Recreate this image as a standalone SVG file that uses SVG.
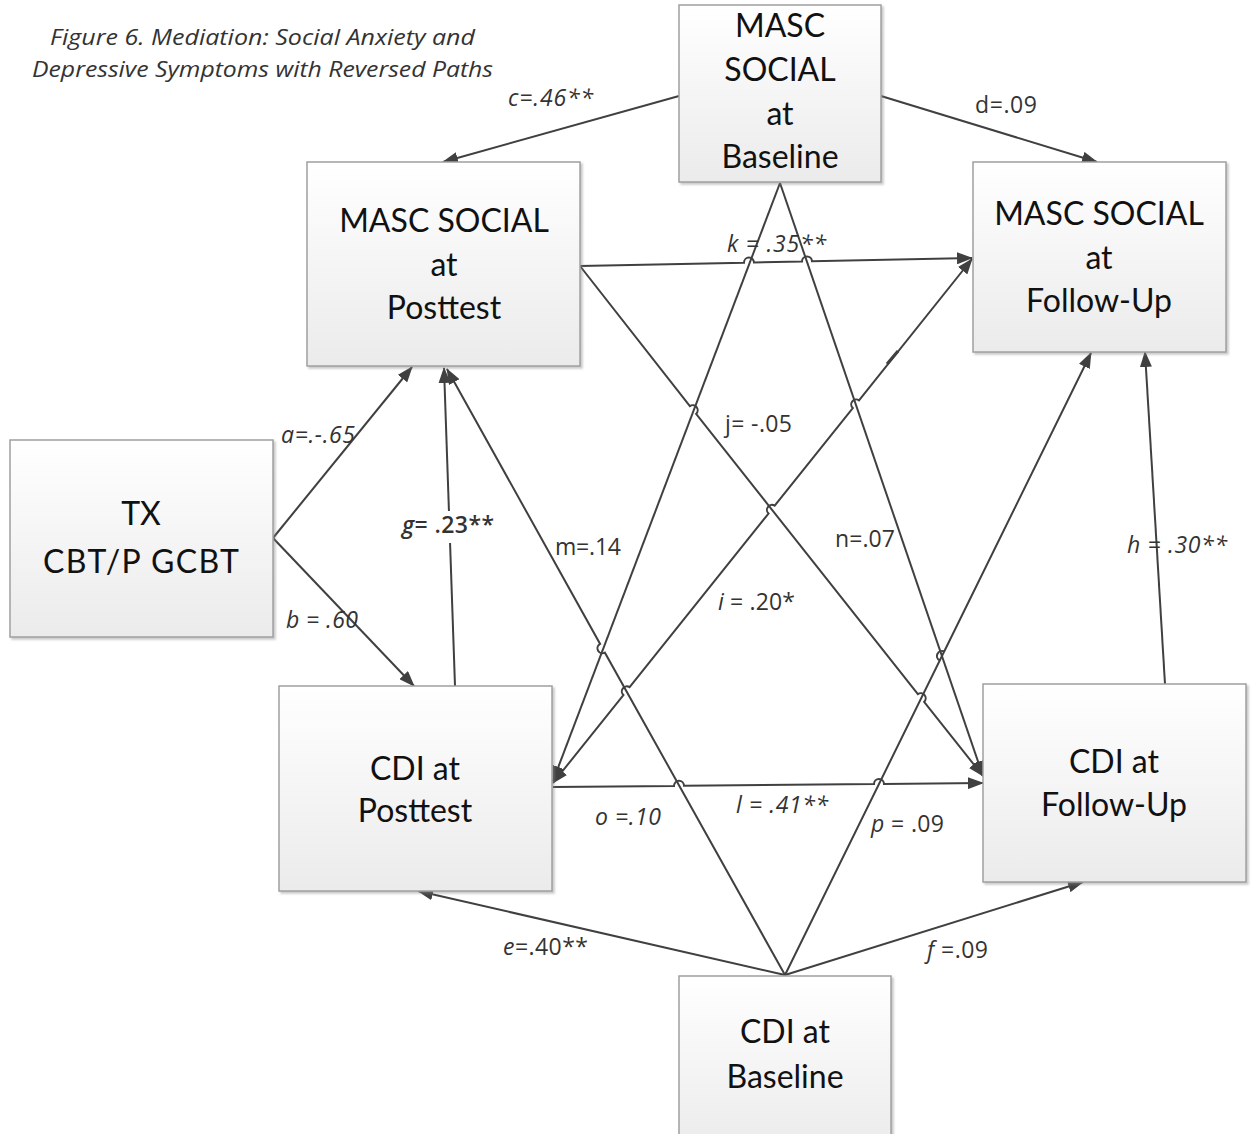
<svg xmlns="http://www.w3.org/2000/svg" width="1253" height="1134" viewBox="0 0 1253 1134">
  <defs>
    <linearGradient id="boxFill" x1="0" y1="0" x2="0" y2="1">
      <stop offset="0" stop-color="#ffffff"/>
      <stop offset="1" stop-color="#ebebeb"/>
    </linearGradient>
    <filter id="shadow" x="-5%" y="-5%" width="115%" height="115%">
      <feDropShadow dx="2" dy="2" stdDeviation="1.2" flood-color="#888888" flood-opacity="0.45"/>
    </filter>
    <marker id="arrow" viewBox="0 0 16 12" refX="15" refY="6" markerWidth="16" markerHeight="12" markerUnits="userSpaceOnUse" orient="auto-start-reverse">
      <path d="M0,0 L16,6 L0,12 z" fill="#404040"/>
    </marker>
    <style>
      .box { fill: url(#boxFill); stroke: #a0a0a0; stroke-width: 1.5; filter: url(#shadow); }
      .node text { font-family: Lato, "Open Sans", sans-serif; font-size: 32px; fill: #111111; text-anchor: middle; }
      .conn path, .conn line { fill: none; stroke: #404040; stroke-width: 2; }
      .arr { marker-end: url(#arrow); }
      .lbl { font-family: "Open Sans", Lato, sans-serif; font-size: 23px; fill: #333333; }
      .it { font-style: italic; }
      .title { font-family: "Open Sans", Lato, sans-serif; font-size: 22px; font-style: italic; fill: #333333; }
    </style>
  </defs>

  <rect width="1253" height="1134" fill="#ffffff"/>

  <!-- caption -->
  <text class="title" x="50" y="45" textLength="425" lengthAdjust="spacingAndGlyphs">Figure 6. Mediation: Social Anxiety and</text>
  <text class="title" x="32" y="77" textLength="461" lengthAdjust="spacingAndGlyphs">Depressive Symptoms with Reversed Paths</text>

  <!-- paths between measures; small arcs mark crossings -->
  <g id="connectors" class="conn">
    <!-- a, b from treatment -->
    <line class="arr" x1="273" y1="538" x2="412" y2="367"/>
    <line class="arr" x1="273" y1="538" x2="414" y2="686"/>
    <!-- c, d from MASC baseline -->
    <line class="arr" x1="679" y1="96" x2="443" y2="162"/>
    <line class="arr" x1="881" y1="96" x2="1097" y2="162"/>
    <!-- e, f from CDI baseline -->
    <line class="arr" x1="785" y1="975" x2="418" y2="891"/>
    <line class="arr" x1="785" y1="975" x2="1083" y2="882"/>
    <!-- g, h cross-sectional -->
    <line class="arr" x1="455" y1="686" x2="444" y2="368"/>
    <line class="arr" x1="1165" y1="684" x2="1145" y2="352"/>
    <!-- k: MASC posttest to MASC follow-up -->
    <path class="arr" d="M580,266 L744,262.7 A5,5 0 0 1 754,262.5 L802,261.5 A5,5 0 0 1 812,261.3 L972,258"/>
    <!-- l: CDI posttest to CDI follow-up -->
    <path class="arr" d="M553,787 L674,785.9 A5,5 0 0 1 684,785.8 L874,784 A5,5 0 0 1 884,783.9 L983,783"/>
    <!-- j: MASC posttest to CDI follow-up -->
    <path class="arr" d="M580,266 L689.9,406.1 A5,5 0 0 1 696.1,413.9 L917.9,694.1 A5,5 0 0 1 924.1,701.9 L983,776"/>
    <!-- MASC baseline to CDI posttest / CDI follow-up -->
    <line class="arr" x1="780" y1="183" x2="553" y2="781"/>
    <line class="arr" x1="780" y1="183" x2="983" y2="776"/>
    <!-- CDI baseline to MASC posttest -->
    <path class="arr" d="M785,975 L604.9,652.7 A5,5 0 0 1 600.1,643.9 L447,369"/>
    <!-- CDI baseline to MASC follow-up -->
    <path class="arr" d="M785,975 L944.2,651.5 A5,5 0 0 0 939.8,660.5 M944.2,651.5 L1091,353"/>
    <!-- i: CDI posttest and MASC follow-up -->
    <path d="M553,783 L623.4,695 A5,5 0 0 1 629.6,687.2 L768.5,513.5 A5,5 0 0 1 774.7,505.7 L852.8,408.1 A5,5 0 0 1 859,400.3 L972,259" marker-start="url(#arrow)" marker-end="url(#arrow)"/>
    <line x1="887" y1="364" x2="898" y2="351" style="stroke-width:3"/>
  </g>

  <!-- path coefficients -->
  <g id="labels">
    <text class="lbl it" x="508" y="106" textLength="85">c=.46**</text>
    <text class="lbl" x="975" y="113" textLength="62">d=.09</text>
    <text class="lbl it" x="727" y="252" textLength="99">k = .35**</text>
    <text class="lbl" x="725" y="432" textLength="67">j= -.05</text>
    <text class="lbl" x="555" y="555" textLength="66">m=.14</text>
    <text class="lbl" x="835" y="547" textLength="60">n=.07</text>
    <text class="lbl" x="718" y="610" textLength="77"><tspan class="it">i</tspan> = .20*</text>
    <text class="lbl it" x="281" y="443" textLength="74">a=.-.65</text>
    <rect x="400" y="511" width="96" height="32" fill="#ffffff"/>
    <text class="lbl" x="402" y="533" textLength="92" style="font-weight:600"><tspan class="it">g</tspan>= .23**</text>
    <text class="lbl it" x="286" y="628" textLength="72">b = .60</text>
    <text class="lbl it" x="1127" y="553" textLength="100">h = .30**</text>
    <text class="lbl it" x="595" y="825" textLength="66">o =.10</text>
    <text class="lbl it" x="736" y="813" textLength="92">l = .41**</text>
    <text class="lbl" x="871" y="832" textLength="73"><tspan class="it">p</tspan> = .09</text>
    <text class="lbl" x="503" y="955" textLength="85"><tspan class="it">e</tspan>=.40**</text>
    <text class="lbl" x="927" y="958" textLength="61"><tspan class="it">f</tspan> =.09</text>
  </g>

  <!-- measures -->
  <g id="masc-baseline" class="node">
    <rect class="box" x="679" y="5" width="202" height="177"/>
    <text x="780" y="37">MASC</text>
    <text x="780" y="81">SOCIAL</text>
    <text x="780" y="125">at</text>
    <text x="780" y="168">Baseline</text>
  </g>
  <g id="masc-posttest" class="node">
    <rect class="box" x="307" y="162" width="273" height="204"/>
    <text x="444" y="232">MASC SOCIAL</text>
    <text x="444" y="276">at</text>
    <text x="444" y="319">Posttest</text>
  </g>
  <g id="masc-followup" class="node">
    <rect class="box" x="973" y="162" width="253" height="190"/>
    <text x="1099" y="225">MASC SOCIAL</text>
    <text x="1099" y="269">at</text>
    <text x="1099" y="312">Follow-Up</text>
  </g>
  <g id="tx" class="node">
    <rect class="box" x="10" y="440" width="263" height="197"/>
    <text x="141" y="525">TX</text>
    <text x="141" y="573" textLength="196">CBT/P GCBT</text>
  </g>
  <g id="cdi-posttest" class="node">
    <rect class="box" x="279" y="686" width="273" height="205"/>
    <text x="415" y="780">CDI at</text>
    <text x="415" y="822">Posttest</text>
  </g>
  <g id="cdi-followup" class="node">
    <rect class="box" x="983" y="684" width="263" height="198"/>
    <text x="1114" y="773">CDI at</text>
    <text x="1114" y="816">Follow-Up</text>
  </g>
  <g id="cdi-baseline" class="node">
    <rect class="box" x="679" y="976" width="212" height="175"/>
    <text x="785" y="1043">CDI at</text>
    <text x="785" y="1088">Baseline</text>
  </g>
</svg>
